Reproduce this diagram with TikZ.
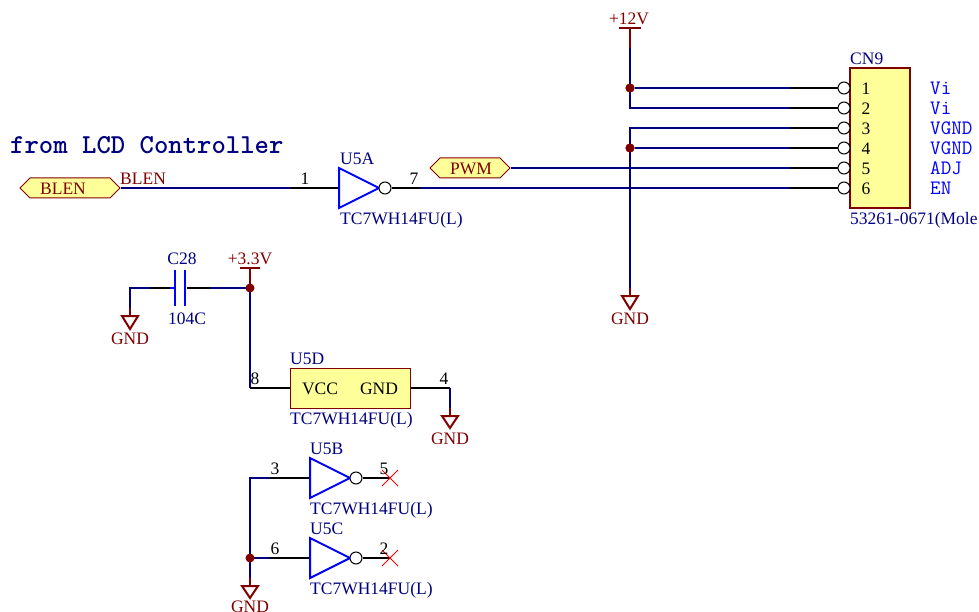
\documentclass[tikz,border=0pt]{standalone}
\usepackage{fontspec}
\setmainfont{Liberation Serif}
\usetikzlibrary{shapes.symbols}
\definecolor{wirecol}{HTML}{000080}
\definecolor{pwrcol}{HTML}{800000}
\definecolor{gatecol}{HTML}{0000FF}
\definecolor{partcol}{HTML}{FFFF99}
\tikzset{
  wire/.style={line width=2pt,wirecol},
  pin/.style={line width=2pt,black},
  pwr/.style={line width=2pt,pwrcol},
  gate/.style={line width=2pt,gatecol},
  txt/.style={inner sep=0pt,font=\fontsize{17.5}{20}\selectfont,text height=13pt,text depth=0pt},
  part/.style={txt,text=wirecol,anchor=west},
  pwrtxt/.style={txt,text=pwrcol},
  pinnum/.style={txt,text=black},
  pinname/.style={inner sep=0pt,anchor=west,text=gatecol,font=\ttfamily\fontsize{20.5}{22}\selectfont,text height=13pt,text depth=0pt},
  port/.style={inner sep=0pt,shape=signal,signal to=west and east,signal pointer angle=90,minimum height=20pt,draw=pwrcol,line width=1pt,fill=partcol},
  bubble/.style={circle,draw=black,line width=1pt,fill=white,minimum size=12pt,inner sep=0pt},
  dotj/.style={circle,fill=pwrcol,minimum size=9pt,inner sep=0pt},
  gndsym/.style={line width=2pt,pwrcol},
}
\begin{document}
\begin{tikzpicture}[x=1pt,y=-1pt]
\useasboundingbox (0,0) rectangle (979,612);
\node[anchor=west,inner sep=0pt,text=wirecol,font=\ttfamily\bfseries\fontsize{27.4}{30}\selectfont] (title) at (10,145) {from LCD Controller};

% connector
\node[draw=pwrcol,line width=2pt,fill=partcol,minimum width=60pt,minimum height=140pt,inner sep=0pt] (cn9) at (880,138) {};
\node[part] (cn9ref) at (850,58) {CN9};
\node[part] (cn9val) at (850,218) {53261-0671(Mole};
\node[bubble] (p1) at (844,88) {};
\node[bubble] (p2) at (844,108) {};
\node[bubble] (p3) at (844,128) {};
\node[bubble] (p4) at (844,148) {};
\node[bubble] (p5) at (844,168) {};
\node[bubble] (p6) at (844,188) {};
\node[pinnum] (n1) at (866,88) {1};
\node[pinnum] (n2) at (866,108) {2};
\node[pinnum] (n3) at (866,128) {3};
\node[pinnum] (n4) at (866,148) {4};
\node[pinnum] (n5) at (866,168) {5};
\node[pinnum] (n6) at (866,188) {6};
\node[pinname] (vi1) at (930,88) {Vi};
\node[pinname] (vi2) at (930,108) {Vi};
\node[pinname] (vgnd1) at (930,128) {VGND};
\node[pinname] (vgnd2) at (930,148) {VGND};
\node[pinname] (adj) at (930,168) {ADJ};
\node[pinname] (en) at (930,188) {EN};

% +12V and connector ground
\coordinate (v12) at (630,28);
\coordinate (v12end) at (630,48);
\coordinate (c1) at (790,88);
\coordinate (c2) at (790,108);
\coordinate (c3) at (790,128);
\coordinate (c4) at (790,148);
\coordinate (c5) at (790,168);
\coordinate (c6) at (790,188);
\node[dotj] (j12) at (630,88) {};
\node[dotj] (jgnd) at (630,148) {};
\node[pwrtxt] (v12txt) at (629,18) {+12V};
\node[pwrtxt] (gnd1) at (630,318) {GND};
\coordinate (g1) at (630,288);
\draw[wire] (v12end) -- (630,108) -- (c2);
\draw[wire] (j12) -- (c1);
\draw[wire] (c3) -- (630,128) -- (g1);
\draw[wire] (jgnd) -- (c4);
\draw[pwr] (v12) -- (v12end);
\draw[pwr] (g1) -- (630,296);
\draw[pwr] (619,28) -- (641,28);
\draw[gndsym] (622,296) -- (638,296) -- (630,309) -- cycle;
\node[dotj] at (j12) {};
\node[dotj] at (jgnd) {};

% BLEN and PWM
\node[port,minimum width=100pt] (blen) at (70,188) {};
\node[pwrtxt] (blentxt) at (63,188) {BLEN};
\node[port,minimum width=80pt] (pwm) at (470,168) {};
\node[pwrtxt] (pwmtxt) at (471,168) {PWM};
\node[txt,text=pwrcol,anchor=west] (blennet) at (120,178) {BLEN};
\coordinate (u5ain) at (339,188);
\coordinate (u5apin) at (290,188);
\coordinate (u5aend) at (420,188);
\draw[wire] (blen.east) -- (u5apin);
\draw[pin] (u5apin) -- (u5ain);
\draw[gate] (339,168) -- (339,208) -- (379,188) -- cycle;
\node[bubble] (u5aout) at (385,188) {};
\draw[pin] (u5aout) -- (u5aend);
\draw[wire] (u5aend) -- (c6);
\draw[wire] (pwm.east) -- (c5);
\node[pinnum] (a1) at (305,178) {1};
\node[pinnum] (a7) at (414,178) {7};
\node[part] (u5a) at (340,158) {U5A};
\node[part] (u5aval) at (340,218) {TC7WH14FU(L)};
\draw[pin] (c1) -- (p1);
\draw[pin] (c2) -- (p2);
\draw[pin] (c3) -- (p3);
\draw[pin] (c4) -- (p4);
\draw[pin] (c5) -- (p5);
\draw[pin] (c6) -- (p6);

% C28 and +3.3V
\coordinate (cgnd) at (130,316);
\coordinate (cl) at (150,288);
\coordinate (cpl) at (170,288);
\coordinate (cpr) at (187,288);
\coordinate (cr) at (210,288);
\coordinate (v33) at (250,268);
\coordinate (u5dvcc) at (250,388);
\draw[wire] (130,308) -- (130,288) -- (cl);
\draw[pwr] (130,308) -- (cgnd);
\draw[pin] (cl) -- (cpl);
\draw[gate] (cpl) -- (175,288);
\draw[gate] (175,270) -- (175,306);
\draw[gate] (185,270) -- (185,306);
\draw[pin] (cpr) -- (cr);
\draw[wire] (cr) -- (250,288);
\draw[wire] (v33) -- (u5dvcc);
\draw[pwr] (v33) -- (250,288);
\draw[pwr] (240,268) -- (260,268);
\node[dotj] (j33) at (250,288) {};
\draw[gndsym] (122,316) -- (138,316) -- (130,329) -- cycle;
\node[pwrtxt] (v33txt) at (250,258) {+3.3V};
\node[pwrtxt] (gnd2) at (130,338) {GND};
\node[txt,text=wirecol] (c28) at (182,258) {C28};
\node[txt,text=wirecol] (c28val) at (187,318) {104C};

% U5D
\node[draw=pwrcol,line width=1pt,fill=partcol,minimum width=120pt,minimum height=40pt,inner sep=0pt] (u5d) at (350,388) {};
\node[txt,text=black] (vcc) at (320,388) {VCC};
\node[txt,text=black] (gndp) at (379,388) {GND};
\node[part] (u5dref) at (290,358) {U5D};
\node[part] (u5dval) at (290,418) {TC7WH14FU(L)};
\coordinate (u5dgnd) at (450,388);
\coordinate (g3) at (450,408);
\draw[pin] (u5dvcc) -- (u5d.west);
\draw[pin] (u5d.east) -- (u5dgnd);
\draw[wire] (u5dgnd) -- (g3);
\draw[pwr] (g3) -- (450,416);
\draw[gndsym] (442,416) -- (458,416) -- (450,428) -- cycle;
\node[pinnum] (d8) at (255,378) {8};
\node[pinnum] (d4) at (444,378) {4};
\node[pwrtxt] (gnd3) at (450,438) {GND};

% U5B and U5C
\coordinate (u5bin) at (310,478);
\coordinate (u5cin) at (310,558);
\coordinate (u5bpin) at (270,478);
\coordinate (u5cpin) at (270,558);
\coordinate (u5bnc) at (390,478);
\coordinate (u5cnc) at (390,558);
\coordinate (g4) at (250,578);
\draw[wire] (u5bpin) -- (250,478) -- (g4);
\draw[wire] (250,558) -- (u5cpin);
\draw[pwr] (g4) -- (250,586);
\draw[gndsym] (242,586) -- (258,586) -- (250,598) -- cycle;
\node[dotj] (j4) at (250,558) {};
\draw[pin] (u5bpin) -- (u5bin);
\draw[pin] (u5cpin) -- (u5cin);
\draw[gate] (310,458) -- (310,498) -- (350,478) -- cycle;
\draw[gate] (310,538) -- (310,578) -- (350,558) -- cycle;
\node[bubble] (u5bout) at (356,478) {};
\node[bubble] (u5cout) at (356,558) {};
\draw[pin] (u5bout) -- (u5bnc);
\draw[pin] (u5cout) -- (u5cnc);
\draw[red,line width=1pt] (382,470) -- (398,486) (382,486) -- (398,470);
\draw[red,line width=1pt] (382,550) -- (398,566) (382,566) -- (398,550);
\node[pinnum] (b3) at (275,468) {3};
\node[pinnum] (b5) at (384,468) {5};
\node[pinnum] (c6n) at (275,548) {6};
\node[pinnum] (c2n) at (384,548) {2};
\node[part] (u5b) at (310,448) {U5B};
\node[part] (u5bval) at (310,508) {TC7WH14FU(L)};
\node[part] (u5c) at (310,528) {U5C};
\node[part] (u5cval) at (310,588) {TC7WH14FU(L)};
\node[pwrtxt] (gnd4) at (250,605.5) {GND};
\end{tikzpicture}
\end{document}
